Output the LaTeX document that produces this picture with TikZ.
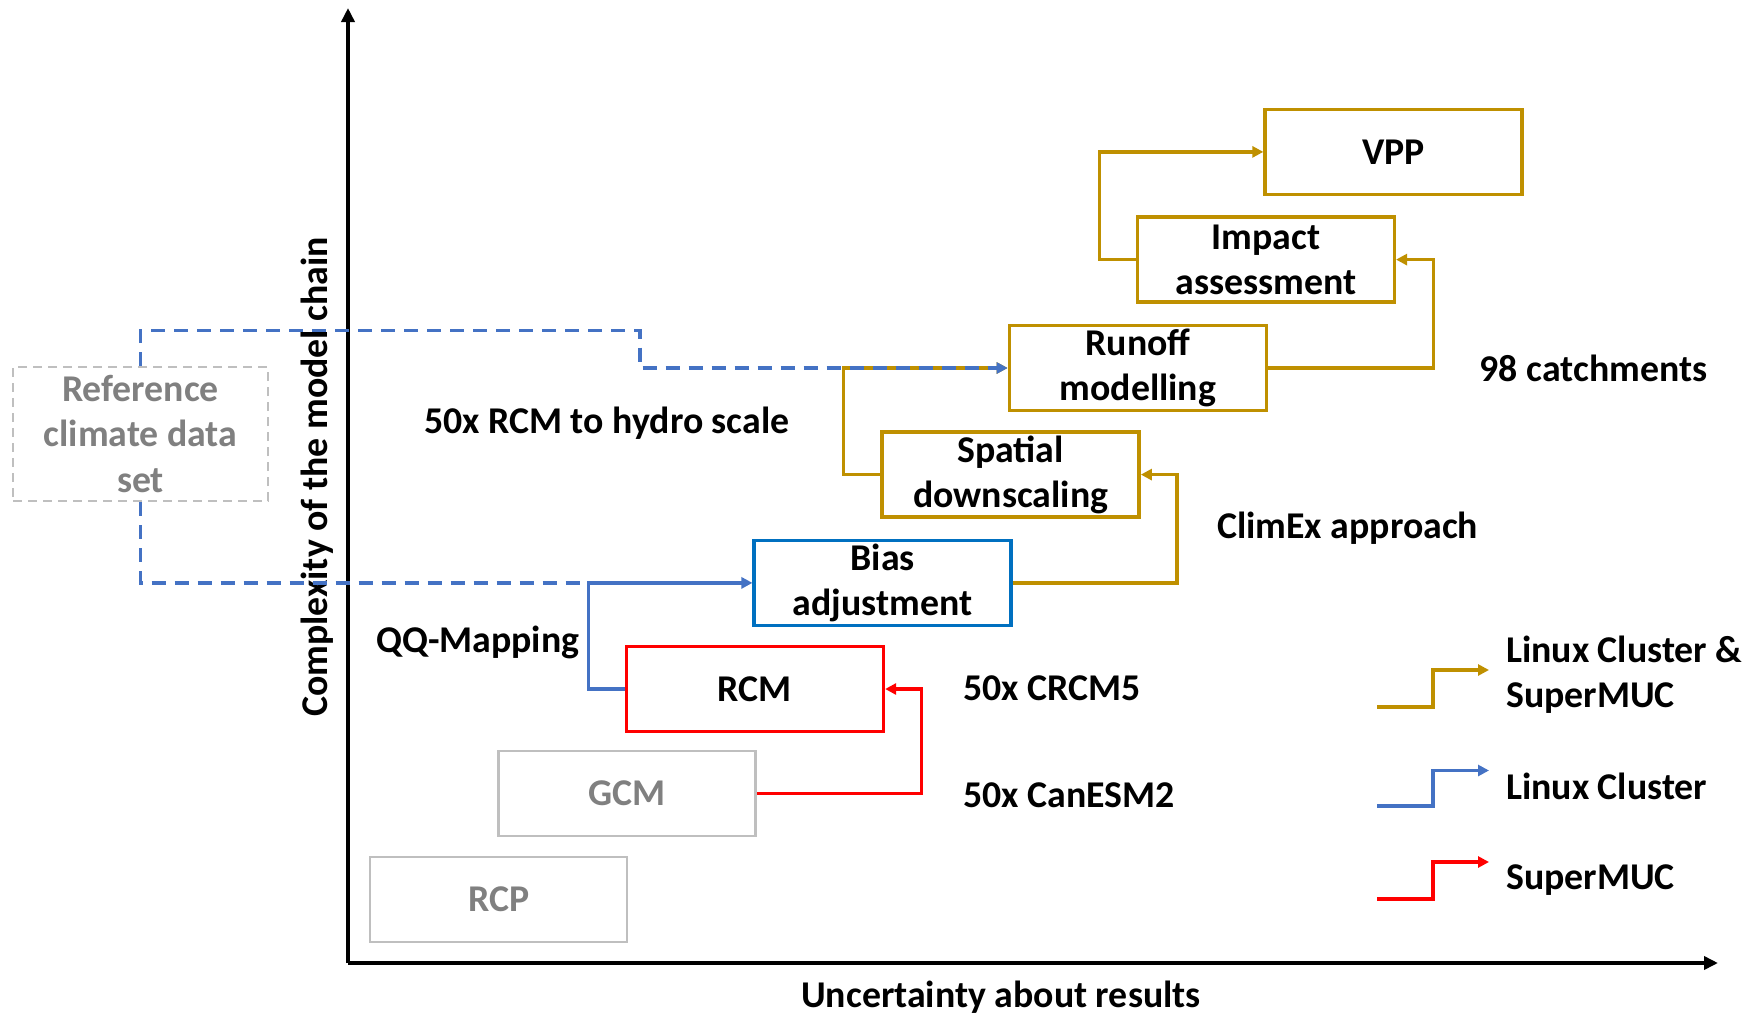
\documentclass[tikz,border=0pt]{standalone}
\usepackage{fontspec}
\setmainfont{Carlito}
\usetikzlibrary{arrows.meta}
\definecolor{cgold}{HTML}{BF9000}
\definecolor{cblue}{HTML}{4472C4}
\definecolor{cboxblue}{HTML}{0070C0}
\definecolor{cred}{HTML}{FF0000}
\definecolor{cgrayline}{HTML}{BFBFBF}
\definecolor{cgraytext}{HTML}{808080}
\begin{document}
\begin{tikzpicture}[x=1pt,y=-1pt,
  font=\fontsize{37.8}{45.3}\selectfont\bfseries,
  box/.style={draw, line width=3.5pt, minimum width=257pt, minimum height=85pt, align=center, inner sep=0pt},
  conn/.style={line width=3.2pt, -{Triangle[length=11pt,width=11pt]}},
  plainconn/.style={line width=3.2pt},
  axis/.style={line width=3.5pt, -{Triangle[length=14pt,width=13pt]}},
  lbl/.style={anchor=west, inner sep=0pt}]
\useasboundingbox (0,0) rectangle (1751,1017);

% axes
\coordinate (O) at (348,963);
\coordinate (ytop) at (348,8);
\coordinate (xend) at (1718,963);
\draw[axis] (O) -- (ytop);
\draw[axis] (O) -- (xend);
\node[rotate=90, inner sep=0pt] (ylab) at (317,477) {Complexity of the model chain};
\node[inner sep=0pt] (xlab) at (1001,997) {Uncertainty about results};

% boxes
\node[box, draw=cgrayline, text=cgraytext, line width=2.5pt] (rcp) at (498.6,899.5) {RCP};
\node[box, draw=cgrayline, text=cgraytext, line width=2.5pt] (gcm) at (627,793.4) {GCM};
\node[box, draw=cred] (rcm) at (754.9,689) {RCM};
\node[box, draw=cboxblue] (bias) at (882.7,582.9) {Bias\\adjustment};
\node[box, draw=cgold] (spat) at (1010.6,474.6) {Spatial\\downscaling};
\node[box, draw=cgold] (run) at (1137.9,368) {Runoff\\modelling};
\node[box, draw=cgold] (imp) at (1265.8,259.6) {Impact\\assessment};
\node[box, draw=cgold] (vpp) at (1393.6,151.9) {VPP};
\node[box, draw=cgrayline, text=cgraytext, dashed, dash pattern=on 9pt off 6pt, line width=2pt, minimum width=255pt, minimum height=134pt] (ref) at (140.5,434) {Reference\\climate data\\set};

% connectors
\draw[conn, cred] (gcm.east) -- ++(164.5,0) |- (rcm.east);
\coordinate (bj) at (588.5,582.9);
\draw[conn, cblue] (rcm.west) -| (bj) -- (bias.west);
\draw[conn, cgold] (bias.east) -- ++(164,0) |- (spat.east);
\draw[conn, cgold] (spat.west) -- ++(-37,0) |- (run.west);
\draw[conn, cgold] (run.east) -- ++(165,0) |- (imp.east);
\draw[conn, cgold] (imp.west) -- ++(-36,0) |- (vpp.west);

% dashed reference connectors
\coordinate (dk) at (640,330.5);
\draw[conn, cblue, dashed, dash pattern=on 14pt off 9pt] (ref.north) |- (dk) |- (run.west);
\draw[plainconn, cblue, dashed, dash pattern=on 14pt off 9pt] (ref.south) |- (bj);

% labels
\node[lbl] (l1) at (424,423) {50x RCM to hydro scale};
\node[lbl] (l2) at (1217,528) {ClimEx approach};
\node[lbl] (l3) at (1479.6,368) {98 catchments};
\node[lbl] (l4) at (376,642) {QQ-Mapping};
\node[lbl] (l5) at (963,688) {50x CRCM5};
\node[lbl] (l6) at (963,795) {50x CanESM2};

% legend
\coordinate (g0) at (1377,707); \coordinate (g1) at (1433,670); \coordinate (g2) at (1489,670);
\coordinate (b0) at (1377,806); \coordinate (b1) at (1433,770.5); \coordinate (b2) at (1489,770.5);
\coordinate (r0) at (1377,899); \coordinate (r1) at (1433,862); \coordinate (r2) at (1489,862);
\draw[conn, cgold] (g0) -| (g1) -- (g2);
\draw[conn, cblue] (b0) -| (b1) -- (b2);
\draw[conn, cred] (r0) -| (r1) -- (r2);
\node[lbl, align=left] (lg1) at (1506,675) {Linux Cluster \&\\SuperMUC};
\node[lbl] (lg2) at (1506,786) {Linux Cluster};
\node[lbl] (lg3) at (1506,880) {SuperMUC};
\end{tikzpicture}
\end{document}
